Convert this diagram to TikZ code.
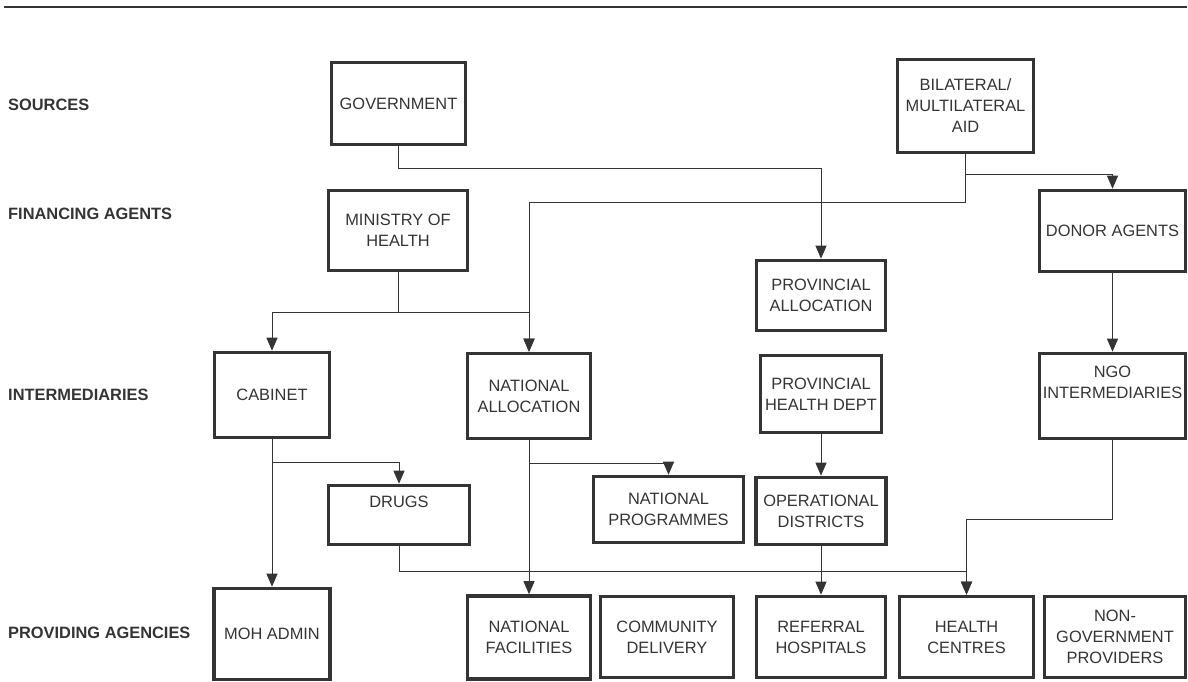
\documentclass[tikz,border=0pt]{standalone}
\usepackage{fontspec}
\setmainfont{Liberation Sans}
\usetikzlibrary{arrows.meta}
\definecolor{inkgray}{RGB}{52,52,52}

\begin{document}
\begin{tikzpicture}[x=1pt,y=-1pt,
      font=\fontsize{16.4}{21}\selectfont,
      box/.style={rectangle,draw=inkgray,line width=3.6pt,text=inkgray,align=center,inner sep=0pt},
      tier/.style={anchor=west,inner sep=0pt,text=inkgray,font=\fontsize{16.4}{21}\selectfont\bfseries},
      a/.style={-{Triangle[length=13pt,width=11pt]},draw=inkgray,line width=1pt}]
    \useasboundingbox (0,0) rectangle (1188,682);
    \draw[line width=2.8pt,inkgray] (4,7) -- (1187,7);
    % tier labels
    \node[tier] (lsrc) at (8,105) {SOURCES};
    \node[tier] (lfin) at (8,214) {FINANCING AGENTS};
    \node[tier] (lint) at (8,395) {INTERMEDIARIES};
    \node[tier] (lprov) at (8,633) {PROVIDING AGENCIES};
    % sources
    \node[box,minimum width=134pt,minimum height=82pt] (gov) at (398.5,103.5) {GOVERNMENT};
    \node[box,minimum width=136pt,minimum height=93pt] (bilat) at (965.5,106) {BILATERAL/\\MULTILATERAL\\AID};
    % financing agents
    \node[box,minimum width=139pt,minimum height=80pt] (moh) at (398,230.5) {MINISTRY OF\\HEALTH};
    \node[box,minimum width=129pt,minimum height=70pt] (prov) at (821,295.5) {PROVINCIAL\\ALLOCATION};
    \node[box,minimum width=146pt,minimum height=81pt] (donor) at (1112.5,231) {DONOR AGENTS};
    % intermediaries
    \node[box,minimum width=115pt,minimum height=85pt] (cab) at (272,395) {CABINET};
    \node[box,minimum width=123pt,minimum height=85pt] (natalloc) at (529,396) {NATIONAL\\ALLOCATION};
    \node[box,minimum width=121pt,minimum height=77pt] (phd) at (821,394) {PROVINCIAL\\HEALTH DEPT};
    \node[box,minimum width=146pt,minimum height=85pt] (ngo) at (1112.5,396) {NGO\\INTERMEDIARIES\\\strut};
    \node[box,minimum width=141pt,minimum height=59pt] (drugs) at (399,515) {DRUGS\\\strut};
    \node[box,minimum width=150pt,minimum height=66pt] (natprog) at (668.5,509.5) {NATIONAL\\PROGRAMMES};
    \node[box,minimum width=130pt,minimum height=67pt] (oper) at (821,511) {OPERATIONAL\\DISTRICTS};
    % providing agencies
    \node[box,minimum width=116pt,minimum height=91pt] (mohadm) at (272,634) {MOH ADMIN};
    \node[box,minimum width=123pt,minimum height=83pt] (natfac) at (529,637.5) {NATIONAL\\FACILITIES};
    \node[box,minimum width=133pt,minimum height=81pt] (comm) at (667,637) {COMMUNITY\\DELIVERY};
    \node[box,minimum width=129pt,minimum height=81pt] (ref) at (821,637) {REFERRAL\\HOSPITALS};
    \node[box,minimum width=134pt,minimum height=81pt] (hc) at (966.5,637) {HEALTH\\CENTRES};
    \node[box,minimum width=141pt,minimum height=81pt] (nongov) at (1115,637) {NON-\\GOVERNMENT\\PROVIDERS};
    % flows
    \draw[a] (gov.south) -- ++(0,22) -| (prov.north);
    \draw[a] (bilat.south) -- ++(0,20) -| (donor.north);
    \draw[a] (bilat.south) -- ++(0,48) -| (natalloc.north);
    \draw[a] (moh.south) -- ++(0,40) -| (cab.north);
    \draw[a] (moh.south) -- ++(0,40) -| (natalloc.north);
    \draw[a] (donor) -- (ngo);
    \draw[a] (cab) -- (mohadm);
    \draw[a] (cab.south) -- ++(0,23) -| (drugs.north);
    \draw[a] (natalloc) -- (natfac);
    \draw[a] (natalloc.south) -- ++(0,23) -| (natprog.north);
    \draw[a] (phd) -- (oper);
    \draw[a] (oper) -- (ref);
    \draw[a] (ngo.south) -- ++(0,79) -| (hc.north);
    \draw[a] (drugs.south) -- ++(0,25) -| (hc.north);
  \end{tikzpicture}
\end{document}
